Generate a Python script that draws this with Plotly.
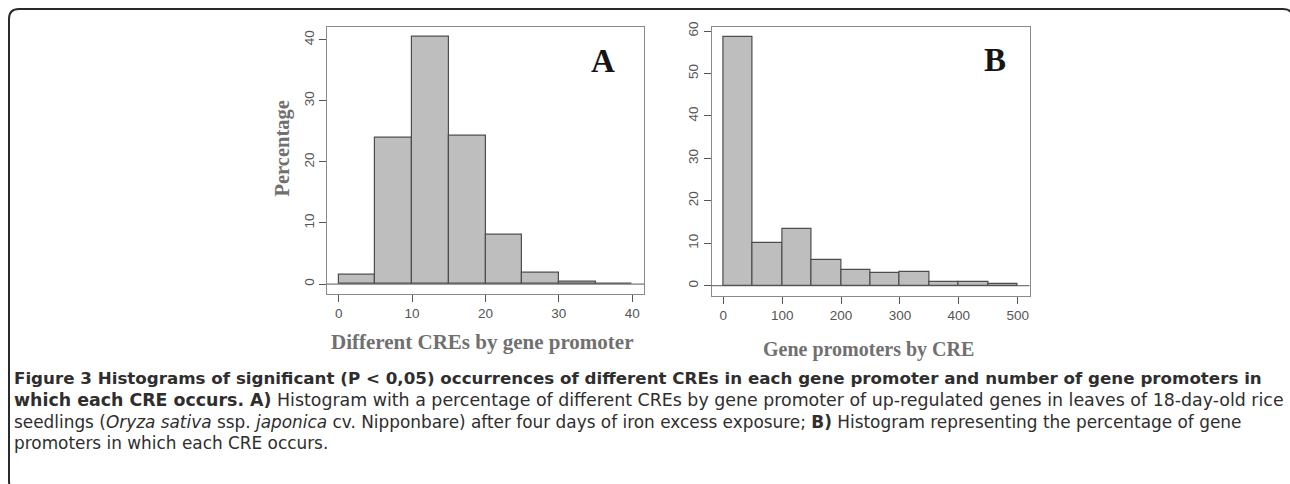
import plotly.graph_objects as go

# ---------------- data ----------------
bin_edges_a = [0, 5, 10, 15, 20, 25, 30, 35, 40]
pct_a = [1.5, 23.9, 40.5, 24.2, 8.1, 1.9, 0.4, 0.1]

bin_edges_b = [0, 50, 100, 150, 200, 250, 300, 350, 400, 450, 500]
pct_b = [58.6, 10.1, 13.4, 6.1, 3.7, 3.0, 3.2, 0.8, 0.85, 0.45]

xticks_a = [0, 10, 20, 30, 40]
yticks_a = [0, 10, 20, 30, 40]
xticks_b = [0, 100, 200, 300, 400, 500]
yticks_b = [0, 10, 20, 30, 40, 50, 60]

xtitle_a = "Different CREs by gene promoter"
xtitle_b = "Gene promoters by CRE"
ytitle_a = "Percentage"

caption_lines = [
    "<b>Figure 3 Histograms of significant (P &lt; 0,05) occurrences of different CREs in each gene promoter and number of gene promoters in</b>",
    "<b>which each CRE occurs. A)</b> Histogram with a percentage of different CREs by gene promoter of up-regulated genes in leaves of 18-day-old rice",
    "seedlings (<i>Oryza sativa</i> ssp. <i>japonica</i> cv. Nipponbare) after four days of iron excess exposure; <b>B)</b> Histogram representing the percentage of gene",
    "promoters in which each CRE occurs.",
]
caption_sizes = [16.7, 17.4, 16.9, 16.9]

W, H = 1290, 484
DY = 3  # small vertical correction (px)


def px(x):
    return x / W


def py(y):
    return 1 - (y - DY) / H


def centers(edges):
    return [(edges[i] + edges[i + 1]) / 2 for i in range(len(edges) - 1)]


def widths(edges):
    return [edges[i + 1] - edges[i] for i in range(len(edges) - 1)]


BAR_FILL = "#BEBEBE"
BAR_LINE = "#4d4d4d"
TICK_COL = "#555555"
TITLE_COL = "#707070"

fig = go.Figure()
fig.add_trace(go.Bar(x=centers(bin_edges_a), y=pct_a, width=widths(bin_edges_a),
                     marker=dict(color=BAR_FILL, line=dict(color=BAR_LINE, width=1.2)),
                     xaxis="x", yaxis="y", showlegend=False, hoverinfo="x+y"))
fig.add_trace(go.Bar(x=centers(bin_edges_b), y=pct_b, width=widths(bin_edges_b),
                     marker=dict(color=BAR_FILL, line=dict(color=BAR_LINE, width=1.2)),
                     xaxis="x2", yaxis="y2", showlegend=False, hoverinfo="x+y"))

tick_font = dict(family="Liberation Sans, Arial, sans-serif", size=13.5, color=TICK_COL)
axis_common = dict(showgrid=False, zeroline=False, showline=True, mirror=True,
                   linecolor="#8a8a8a", linewidth=1, ticks="outside", ticklen=7,
                   tickcolor=TICK_COL, tickwidth=1, tickfont=tick_font)

ymax_a = max(pct_a)
ymax_b = max(pct_b)
xr_a = bin_edges_a[-1] - bin_edges_a[0]
xr_b = bin_edges_b[-1] - bin_edges_b[0]

fig.update_layout(
    width=W, height=H,
    margin=dict(l=0, r=0, t=0, b=0),
    paper_bgcolor="white", plot_bgcolor="white",
    bargap=0,
    xaxis=dict(domain=[px(327), px(644)], anchor="y",
               range=[bin_edges_a[0] - 0.04 * xr_a, bin_edges_a[-1] + 0.04 * xr_a],
               tickvals=xticks_a, **axis_common),
    yaxis=dict(domain=[py(295), py(25)], anchor="x",
               range=[-0.04 * ymax_a, 1.04 * ymax_a],
               tickvals=yticks_a, tickangle=-90, **axis_common),
    xaxis2=dict(domain=[px(711.5), px(1029.5)], anchor="y2",
                range=[bin_edges_b[0] - 0.04 * xr_b, bin_edges_b[-1] + 0.04 * xr_b],
                tickvals=xticks_b, **axis_common),
    yaxis2=dict(domain=[py(296.7), py(25.3)], anchor="x2",
                range=[-0.04 * ymax_b, 1.04 * ymax_b],
                tickvals=yticks_b, tickangle=-90, **axis_common),
)

# baselines at y = 0
for xr, yr in (("x domain", "y"), ("x2 domain", "y2")):
    fig.add_shape(type="line", xref=xr, yref=yr, x0=0, x1=1, y0=0, y1=0,
                  line=dict(color="#555555", width=1))

serif = "Liberation Serif, Times New Roman, serif"
ann = []
ann.append(dict(text="<b>A</b>", x=px(603), y=py(60), xref="paper", yref="paper",
                showarrow=False, xanchor="center", yanchor="middle",
                font=dict(family=serif, size=33, color="#151515")))
ann.append(dict(text="<b>B</b>", x=px(995), y=py(59), xref="paper", yref="paper",
                showarrow=False, xanchor="center", yanchor="middle",
                font=dict(family=serif, size=33, color="#151515")))
ann.append(dict(text="<b>" + xtitle_a + "</b>", x=px(482.5), y=py(344), xref="paper", yref="paper",
                showarrow=False, xanchor="center", yanchor="middle",
                font=dict(family=serif, size=21, color=TITLE_COL)))
ann.append(dict(text="<b>" + xtitle_b + "</b>", x=px(868), y=py(351), xref="paper", yref="paper",
                showarrow=False, xanchor="center", yanchor="middle",
                font=dict(family=serif, size=20, color=TITLE_COL)))
ann.append(dict(text="<b>" + ytitle_a + "</b>", x=px(283), y=py(148), xref="paper", yref="paper",
                showarrow=False, xanchor="center", yanchor="middle", textangle=-90,
                font=dict(family=serif, size=20.5, color=TITLE_COL)))

for i, line in enumerate(caption_lines):
    ann.append(dict(text=line, x=px(13), y=py(380 + 22 * i), xref="paper", yref="paper",
                    showarrow=False, xanchor="left", yanchor="middle", align="left",
                    borderpad=0,
                    font=dict(family="DejaVu Sans, sans-serif",
                              size=caption_sizes[i], color="#2e2e2e")))
fig.update_layout(annotations=ann)

# rounded frame (top and left edges visible)
path = (f"M {px(19)},{py(494)} Q {px(9)},{py(494)} {px(9)},{py(484)} "
        f"L {px(9)},{py(17)} Q {px(9)},{py(7)} {px(19)},{py(7)} "
        f"L {px(1283)},{py(7)} Q {px(1293)},{py(7)} {px(1293)},{py(17)}")
fig.add_shape(type="path", xref="paper", yref="paper", path=path,
              line=dict(color="#2a2a2a", width=2))

fig.write_html("out.html",
               config={"displayModeBar": False},
               post_script="document.body.style.margin='0';document.body.style.overflow='hidden';")
